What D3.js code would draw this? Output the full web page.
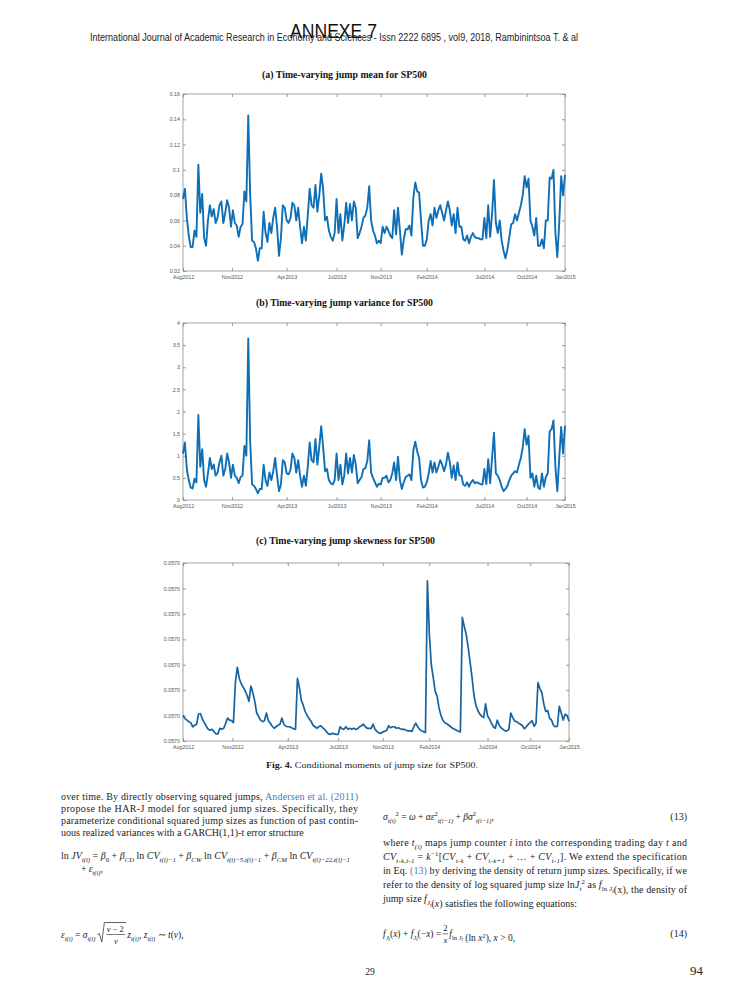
<!DOCTYPE html>
<html><head><meta charset="utf-8">
<script src="https://cdn.jsdelivr.net/npm/d3@7"></script>
<style>body{margin:0;background:#fff}svg{display:block}</style>
</head><body>
<svg id="page" width="745" height="993"></svg>
<script>
// ---------- DATA ----------
const xTickIndex = [0, 25.5, 54, 80, 103, 127, 157, 179, 199];
const xTickLabels = ["Aug2012","Nov2012","Apr2013","Jul2013","Nov2013","Feb2014","Jul2014","Oct2014","Jan2015"];

const meanTicks = [0.02,0.04,0.06,0.08,0.1,0.12,0.14,0.16];
const meanTickLabels = ["0.02","0.04","0.06","0.08","0.1","0.12","0.14","0.16"];
const varianceTicks = [0,0.5,1,1.5,2,2.5,3,3.5,4];
const varianceTickLabels = ["0","0.5","1","1.5","2","2.5","3","3.5","4"];
const skewTicks = [0.057,0.057005,0.05701,0.057015,0.05702,0.057025,0.05703,0.057035];

const meanValues = [
0.077,0.085,0.062,0.048,0.039,0.039,0.052,0.047,0.104,0.066,
0.081,0.046,0.040,0.060,0.072,0.063,0.069,0.058,0.062,0.072,
0.075,0.058,0.066,0.076,0.070,0.055,0.068,0.058,0.056,0.047,
0.055,0.057,0.083,0.075,0.143,0.080,0.044,0.043,0.038,0.028,
0.038,0.038,0.067,0.050,0.043,0.058,0.050,0.062,0.070,0.055,
0.032,0.046,0.072,0.070,0.060,0.058,0.062,0.074,0.072,0.060,
0.070,0.055,0.042,0.055,0.044,0.064,0.085,0.072,0.070,0.088,
0.067,0.080,0.097,0.085,0.060,0.063,0.052,0.047,0.044,0.050,
0.077,0.050,0.065,0.044,0.056,0.074,0.058,0.073,0.060,0.075,
0.070,0.046,0.050,0.055,0.062,0.064,0.070,0.087,0.060,0.052,
0.048,0.042,0.044,0.042,0.055,0.050,0.055,0.052,0.048,0.046,
0.068,0.049,0.070,0.052,0.033,0.045,0.053,0.053,0.056,0.048,
0.078,0.090,0.083,0.082,0.060,0.040,0.040,0.045,0.060,0.065,
0.056,0.070,0.062,0.068,0.072,0.066,0.060,0.068,0.075,0.068,
0.056,0.065,0.050,0.070,0.055,0.055,0.045,0.044,0.048,0.042,
0.047,0.050,0.047,0.046,0.046,0.045,0.045,0.062,0.046,0.072,
0.047,0.065,0.092,0.058,0.050,0.060,0.044,0.036,0.030,0.037,
0.047,0.057,0.058,0.065,0.060,0.066,0.072,0.080,0.095,0.086,
0.093,0.060,0.055,0.048,0.062,0.040,0.040,0.045,0.038,0.060,
0.060,0.094,0.093,0.100,0.050,0.031,0.058,0.095,0.080,0.096];

const varianceValues = [
1.05,1.30,0.70,0.45,0.28,0.26,0.48,0.40,1.92,0.75,
1.15,0.45,0.30,0.60,0.95,0.70,0.80,0.55,0.62,0.85,
1.00,0.55,0.70,1.05,0.85,0.50,0.80,0.55,0.50,0.38,
0.52,0.55,1.22,1.00,3.65,1.30,0.35,0.32,0.25,0.15,
0.25,0.25,0.80,0.45,0.32,0.62,0.45,0.65,0.95,0.55,
0.20,0.35,0.90,0.85,0.60,0.58,0.68,1.05,0.95,0.62,
0.90,0.55,0.30,0.55,0.32,0.75,1.30,0.90,0.85,1.38,
0.80,1.20,1.67,1.20,0.65,0.70,0.45,0.38,0.35,0.45,
1.05,0.45,0.80,0.35,0.55,1.05,0.60,0.95,0.62,1.02,
0.80,0.38,0.45,0.52,0.70,0.72,0.88,1.35,0.62,0.50,
0.40,0.30,0.37,0.35,0.50,0.50,0.55,0.40,0.45,0.60,
0.85,0.45,0.98,0.45,0.25,0.40,0.52,0.55,0.58,0.45,
1.12,1.32,1.10,0.95,0.45,0.28,0.30,0.40,0.60,0.88,
0.62,0.85,0.62,0.75,0.90,0.80,0.65,0.80,1.07,0.85,
0.50,0.78,0.45,0.85,0.55,0.55,0.35,0.32,0.40,0.30,
0.40,0.45,0.38,0.40,0.38,0.36,0.35,0.70,0.36,0.92,
0.38,0.95,1.52,0.60,0.55,0.45,0.30,0.20,0.25,0.32,
0.45,0.55,0.60,0.65,0.62,0.80,0.95,1.20,1.60,1.25,
1.45,0.50,0.60,0.30,0.55,0.28,0.25,0.60,0.30,0.52,
0.60,1.55,1.60,1.80,0.75,0.20,0.95,1.65,1.05,1.68];

const skewValues = [
0.0570050,0.0570044,0.0570041,0.0570038,0.0570036,0.0570028,0.0570031,0.0570033,0.0570053,0.0570054,
0.0570043,0.0570036,0.0570029,0.0570023,0.0570021,0.0570023,0.0570018,0.0570014,0.0570014,0.0570025,
0.0570023,0.0570025,0.0570035,0.0570045,0.0570041,0.0570040,0.0570036,0.0570115,0.0570145,0.0570123,
0.0570113,0.0570106,0.0570099,0.0570090,0.0570078,0.0570108,0.0570095,0.0570078,0.0570055,0.0570048,
0.0570041,0.0570038,0.0570040,0.0570055,0.0570040,0.0570035,0.0570029,0.0570025,0.0570028,0.0570031,
0.0570033,0.0570045,0.0570033,0.0570029,0.0570028,0.0570028,0.0570026,0.0570024,0.0570023,0.0570123,
0.0570105,0.0570080,0.0570070,0.0570058,0.0570050,0.0570044,0.0570039,0.0570031,0.0570028,0.0570025,
0.0570028,0.0570030,0.0570026,0.0570023,0.0570018,0.0570014,0.0570013,0.0570015,0.0570014,0.0570013,
0.0570013,0.0570028,0.0570024,0.0570023,0.0570028,0.0570023,0.0570025,0.0570023,0.0570025,0.0570023,
0.0570024,0.0570028,0.0570030,0.0570033,0.0570028,0.0570025,0.0570025,0.0570025,0.0570033,0.0570023,
0.0570019,0.0570016,0.0570015,0.0570018,0.0570019,0.0570021,0.0570030,0.0570026,0.0570028,0.0570028,
0.0570025,0.0570026,0.0570024,0.0570023,0.0570023,0.0570021,0.0570020,0.0570020,0.0570019,0.0570028,
0.0570035,0.0570028,0.0570023,0.0570020,0.0570018,0.0570017,0.0570315,0.0570210,0.0570150,0.0570125,
0.0570098,0.0570088,0.0570065,0.0570050,0.0570041,0.0570036,0.0570034,0.0570031,0.0570028,0.0570025,
0.0570023,0.0570021,0.0570019,0.0570018,0.0570243,0.0570225,0.0570210,0.0570185,0.0570155,0.0570125,
0.0570090,0.0570070,0.0570060,0.0570053,0.0570049,0.0570046,0.0570073,0.0570050,0.0570043,0.0570035,
0.0570028,0.0570025,0.0570041,0.0570031,0.0570026,0.0570023,0.0570020,0.0570020,0.0570023,0.0570055,
0.0570046,0.0570039,0.0570038,0.0570035,0.0570033,0.0570030,0.0570024,0.0570028,0.0570033,0.0570036,
0.0570040,0.0570029,0.0570035,0.0570115,0.0570103,0.0570095,0.0570073,0.0570058,0.0570060,0.0570045,
0.0570041,0.0570031,0.0570028,0.0570029,0.0570068,0.0570055,0.0570041,0.0570053,0.0570050,0.0570039];

// ---------- DRAWING ----------
const SERIF = "'Liberation Serif','Times New Roman',serif";
const SANS = "'Liberation Sans',Arial,sans-serif";
const LINK = "#3d7fc0";
const svg = d3.select('#page');

// header
svg.append('text').attr('x',90).attr('y',41).attr('font-family',SANS).attr('font-size',10)
  .attr('fill','#222').attr('textLength',488).attr('lengthAdjust','spacingAndGlyphs')
  .text("International Journal of Academic Research in Economy and Sciences  -  Issn 2222 6895 , vol9, 2018, Rambinintsoa T. & al");
svg.append('text').attr('x',290).attr('y',38).attr('font-family',SANS).attr('font-size',20)
  .attr('fill','#111').attr('textLength',87).attr('lengthAdjust','spacingAndGlyphs').text("ANNEXE 7");

const panels = [
  {title:"(a) Time-varying jump mean for SP500", tx:262, ty:78, tw:165, color:"#0f6fb6", lw:1.9,
   values:meanValues, dom:[0.02,0.16], ticks:meanTicks, fmt:(d,i)=>meanTickLabels[i], box:[183,94,565,271]},
  {title:"(b) Time-varying jump variance for SP500", tx:256, ty:306, tw:177, color:"#0f6fb6", lw:1.9,
   values:varianceValues, dom:[0,4], ticks:varianceTicks, fmt:(d,i)=>varianceTickLabels[i], box:[183,323,565,500]},
  {title:"(c) Time-varying jump skewness for SP500", tx:256, ty:544, tw:179, color:"#17639f", lw:1.7,
   values:skewValues, dom:[0.057,0.057035], ticks:skewTicks, fmt:d3.format(".4f"), box:[183,563,569,741]}
];

panels.forEach(p => {
  const [L,T,R,B] = p.box;
  const g = svg.append('g');
  g.append('text').attr('x',p.tx).attr('y',p.ty).attr('font-family',SERIF).attr('font-weight','bold')
    .attr('font-size',10.5).attr('fill','#111').attr('textLength',p.tw).attr('lengthAdjust','spacingAndGlyphs').text(p.title);
  const x = d3.scaleLinear().domain([0, p.values.length-1]).range([L,R]);
  const y = d3.scaleLinear().domain(p.dom).range([B,T]);
  const styleAxis = sel => {
    sel.select('.domain').remove();
    sel.selectAll('.tick line').attr('stroke','#6f6f6f').attr('stroke-width',0.7);
    sel.selectAll('.tick text').attr('font-family',SANS).attr('font-size',5.3).attr('fill','#555');
  };
  g.append('g').attr('transform',`translate(${L},0)`)
    .call(d3.axisLeft(y).tickValues(p.ticks).tickFormat(p.fmt).tickSize(-3).tickPadding(3)).call(styleAxis);
  g.append('g').attr('transform',`translate(${R},0)`)
    .call(d3.axisRight(y).tickValues(p.ticks).tickFormat('').tickSize(-3)).call(styleAxis);
  g.append('g').attr('transform',`translate(0,${B})`)
    .call(d3.axisBottom(x).tickValues(xTickIndex).tickFormat((d,i)=>xTickLabels[i]).tickSize(-3).tickPadding(4)).call(styleAxis);
  g.append('g').attr('transform',`translate(0,${T})`)
    .call(d3.axisTop(x).tickValues(xTickIndex).tickFormat('').tickSize(-3)).call(styleAxis);
  g.append('rect').attr('x',L).attr('y',T).attr('width',R-L).attr('height',B-T)
    .attr('fill','none').attr('stroke','#8a8a8a').attr('stroke-width',0.8);
  g.append('path').datum(p.values)
    .attr('d', d3.line().x((d,i)=>x(i)).y(d=>y(d)))
    .attr('fill','none').attr('stroke',p.color).attr('stroke-width',p.lw).attr('stroke-linejoin','round');
});

// caption
const cap = svg.append('text').attr('x',266).attr('y',768).attr('font-family',SERIF).attr('font-size',9)
  .attr('fill','#222').attr('textLength',212).attr('lengthAdjust','spacingAndGlyphs');
cap.append('tspan').attr('font-weight','bold').text('Fig. 4.');
cap.append('tspan').text('  Conditional moments of jump size for SP500.');

// ---------- rich text helper ----------
function rich(x, y, segs, size, attrs) {
  const t = svg.append('text').attr('x',x).attr('y',y).attr('font-size',size)
    .attr('font-family',SERIF).attr('fill','#222');
  let off = 0;
  segs.forEach(s => {
    const str = s[0], mode = s[1]||'', fl = s[2]||'';
    const target = mode==='sub' ? size*0.28 : mode==='sub2' ? size*0.45 : mode==='sup' ? -size*0.38 : 0;
    const ts = t.append('tspan').attr('dy',(target-off).toFixed(2)).text(str);
    off = target;
    if (mode==='sub'||mode==='sup') ts.attr('font-size',size*0.68);
    if (mode==='sub2') ts.attr('font-size',size*0.55);
    if (fl.includes('i')) ts.attr('font-style','italic');
    if (fl.includes('b')) ts.attr('fill',LINK);
  });
  if (attrs) Object.entries(attrs).forEach(([k,v])=>t.attr(k,v));
  return t;
}
const FS = 10;
const EQ = 9.5;
const just = w => ({textLength:w, lengthAdjust:'spacing'});

// left column
rich(61,800,[["over time. By directly observing squared jumps, "],["Andersen et al. (2011)","","b"]],FS,just(297));
rich(61,812,[["propose the HAR-J model for squared jump sizes. Specifically, they"]],FS,just(297));
rich(61,824,[["parameterize conditional squared jump sizes as function of past contin-"]],FS,just(297));
rich(61,836,[["uous realized variances with a GARCH(1,1)-t error structure"]],FS);

rich(61,859,[["ln "],["JV","","i"],["t(i)","sub","i"],[" = "],["β","","i"],["0","sub"],[" + "],["β","","i"],["CD","sub","i"],
  [" ln "],["CV","","i"],["t(i)−1","sub","i"],[" + "],["β","","i"],["CW","sub","i"],[" ln "],["CV","","i"],["t(i)−5,t(i)−1","sub","i"],
  [" + "],["β","","i"],["CM","sub","i"],[" ln "],["CV","","i"],["t(i)−22,t(i)−1","sub","i"]],EQ,{textLength:289,lengthAdjust:'spacingAndGlyphs'});
rich(81,872,[["+ "],["ε","","i"],["t(i)","sub","i"],[","]],EQ);

const e1 = rich(61,938,[["ε","","i"],["t(i)","sub","i"],[" = "],["σ","","i"],["t(i)","sub","i"]],EQ);
const rx = 61 + e1.node().getComputedTextLength() + 2;
svg.append('path').attr('d',`M${rx},935 L${rx+2},933.5 L${rx+4.5},942 L${rx+7},922.5 L${rx+29},922.5`)
  .attr('fill','none').attr('stroke','#222').attr('stroke-width',0.7);
svg.append('text').attr('x',rx+18).attr('y',931.5).attr('text-anchor','middle').attr('font-family',SERIF)
  .attr('font-size',8.5).attr('fill','#222').html('<tspan font-style="italic">ν</tspan> − 2');
svg.append('line').attr('x1',rx+9).attr('x2',rx+28).attr('y1',934.5).attr('y2',934.5).attr('stroke','#222').attr('stroke-width',0.6);
svg.append('text').attr('x',rx+18.5).attr('y',943.5).attr('text-anchor','middle').attr('font-family',SERIF)
  .attr('font-size',8.5).attr('font-style','italic').attr('fill','#222').text('ν');
rich(rx+30,938,[["z","","i"],["t(i)","sub","i"],[",  "],["z","","i"],["t(i)","sub","i"],[" ∼ "],["t","","i"],["("],["ν","","i"],["),"]],EQ);

// right column
rich(383,820,[["σ","","i"],["t(i)","sub","i"],["2","sup"],[" = "],["ω","","i"],[" + "],["αε","","i"],["2","sup"],["t(i−1)","sub","i"],[" + "],["βσ","","i"],["2","sup"],["t(i−1)","sub","i"],[","]],EQ);
rich(687,820,[["(13)"]],FS,{'text-anchor':'end'});

rich(383,846,[["where "],["t","","i"],["(i)","sub","i"],[" maps jump counter "],["i","","i"],[" into the corresponding trading day "],["t","","i"],[" and"]],FS,just(304));
rich(383,860,[["CV","","i"],["t-k,t-1","sub","i"],[" = "],["k","","i"],["−1","sup"],["["],["CV","","i"],["t-k","sub","i"],[" + "],["CV","","i"],["t-k+1","sub","i"],[" + … + "],["CV","","i"],["t-1","sub","i"],["]. We extend the specification"]],FS,just(304));
rich(383,874,[["in Eq. "],["(13)","","b"],[" by deriving the density of return jump sizes. Specifically, if we"]],FS,just(304));
rich(383,888,[["refer to the density of log squared jump size ln"],["J","","i"],["t","sub","i"],["2","sup"],[" as "],["f","","i"],["ln ","sub"],["J","sub","i"],["t","sub2","i"],[""],["(x), the density of"]],FS,just(304));
rich(383,902,[["jump size "],["f","","i"],["J","sub","i"],["t","sub2","i"],[""],["("],["x","","i"],[") satisfies the following equations:"]],FS);

const f1 = rich(383,937,[["f","","i"],["J","sub","i"],["t","sub2","i"],["("],["x","","i"],[") + "],["f","","i"],["J","sub","i"],["t","sub2","i"],["(−"],["x","","i"],[") = "]],EQ);
const fx = 383 + f1.node().getComputedTextLength() + 1;
svg.append('text').attr('x',fx+3).attr('y',931).attr('text-anchor','middle').attr('font-family',SERIF).attr('font-size',8.5).attr('fill','#222').text('2');
svg.append('line').attr('x1',fx).attr('x2',fx+6).attr('y1',933.8).attr('y2',933.8).attr('stroke','#222').attr('stroke-width',0.6);
svg.append('text').attr('x',fx+3).attr('y',942.5).attr('text-anchor','middle').attr('font-family',SERIF).attr('font-size',8.5).attr('font-style','italic').attr('fill','#222').text('x');
rich(fx+7,937,[["f","","i"],["ln ","sub"],["J","sub","i"],["t","sub2","i"],[""],[" (ln "],["x","","i"],["2","sup"],["),  "],["x","","i"],[" > 0,"]],EQ);
rich(687,937,[["(14)"]],FS,{'text-anchor':'end'});

// page numbers
svg.append('text').attr('x',370).attr('y',975).attr('text-anchor','middle').attr('font-family',SERIF).attr('font-size',9.5).attr('fill','#222').text('29');
svg.append('text').attr('x',690).attr('y',975).attr('font-family',SERIF).attr('font-size',13).attr('fill','#222').text('94');
</script>
</body></html>
